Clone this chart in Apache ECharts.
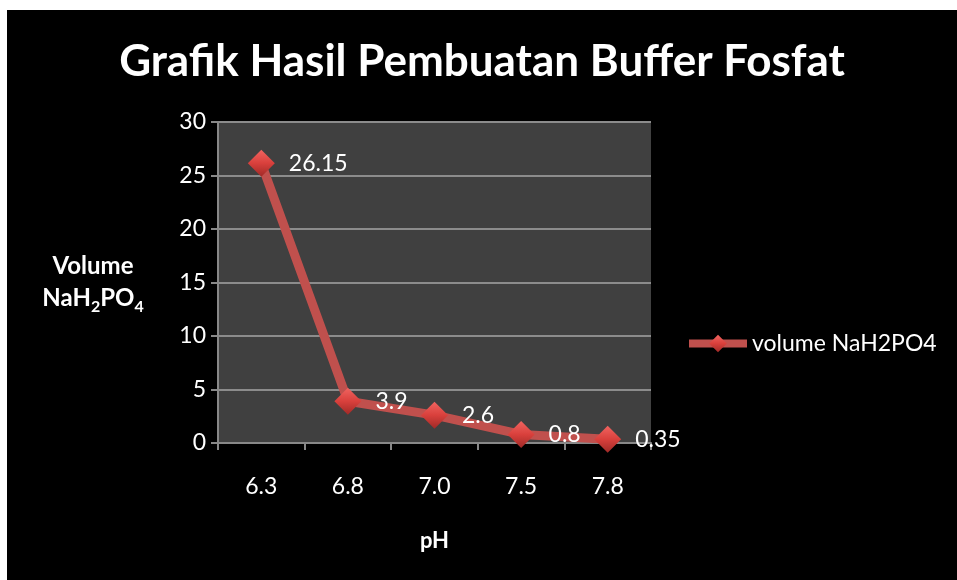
<!DOCTYPE html>
<html>
<head>
<meta charset="utf-8">
<script src="https://cdn.jsdelivr.net/npm/echarts@6/dist/echarts.min.js"></script>
<style>
  html, body { margin: 0; padding: 0; background: #fff; }
  #chart { position: absolute; left: 7px; top: 10px; width: 950px; height: 570px; background: #000; }
</style>
</head>
<body>
<div id="chart"></div>
<script>
// data
const phLabels = ['6.3', '6.8', '7.0', '7.5', '7.8'];
const volumeValues = [26.15, 3.9, 2.6, 0.8, 0.35];
const seriesName = 'volume NaH2PO4';

const chart = echarts.init(document.getElementById('chart'));
const font = 'Lato, "Open Sans", sans-serif';

chart.setOption({
    animation: false,
    backgroundColor: '#000',
    title: {
        text: 'Grafik Hasil Pembuatan Buffer Fosfat',
        left: 'center',
        top: 25,
        textStyle: { color: '#fff', fontFamily: font, fontSize: 44, fontWeight: 'bold' }
    },
    legend: {
        left: 673,
        top: 317,
        itemWidth: 58,
        itemHeight: 22,
        itemGap: 4,
        lineStyle: { width: 8 },
        textStyle: { color: '#fff', fontFamily: font, fontSize: 23 },
        data: [seriesName]
    },
    grid: { left: 211, right: 306, top: 112, bottom: 137 },
    xAxis: {
        type: 'category',
        data: phLabels,
        boundaryGap: true,
        name: 'pH',
        nameLocation: 'middle',
        nameGap: 87,
        nameTextStyle: { color: '#fff', fontFamily: font, fontSize: 22, fontWeight: 'bold' },
        axisLine: { lineStyle: { color: '#888', width: 2 } },
        axisTick: { show: true, length: 7, lineStyle: { color: '#888', width: 2 } },
        axisLabel: { color: '#fff', fontFamily: font, fontSize: 23, margin: 32 }
    },
    yAxis: {
        type: 'value',
        min: 0,
        max: 30,
        interval: 5,
        name: '{b|Volume}\n{b|NaH}{s|2}{b|PO}{s|4}',
        nameLocation: 'middle',
        nameRotate: 0,
        nameGap: 125,
        nameTextStyle: {
            color: '#fff',
            align: 'center',
            rich: {
                b: { color: '#fff', fontFamily: font, fontSize: 24, fontWeight: 'bold', lineHeight: 32 },
                s: { color: '#fff', fontFamily: font, fontSize: 16, fontWeight: 'bold', verticalAlign: 'bottom', lineHeight: 28 }
            }
        },
        axisLine: { show: true, lineStyle: { color: '#888', width: 2 } },
        axisTick: { show: true, length: 7, lineStyle: { color: '#888', width: 2 } },
        axisLabel: { color: '#fff', fontFamily: font, fontSize: 23, margin: 12 },
        splitLine: { lineStyle: { color: '#8c8c8c', width: 2 } },
        splitArea: { show: true, areaStyle: { color: ['#404040', '#404040'] } }
    },
    series: [{
        name: seriesName,
        type: 'line',
        data: volumeValues,
        symbol: 'diamond',
        symbolSize: 27,
        lineStyle: { color: '#c0504d', width: 9 },
        itemStyle: {
            color: {
                type: 'linear', x: 0, y: 0, x2: 0, y2: 1,
                colorStops: [
                    { offset: 0, color: '#f06460' },
                    { offset: 0.5, color: '#d9403c' },
                    { offset: 1, color: '#a02a27' }
                ]
            }
        },
        label: {
            show: true,
            position: 'right',
            distance: 14,
            color: '#fff',
            fontFamily: font,
            fontSize: 23
        }
    }]
});
</script>
</body>
</html>
